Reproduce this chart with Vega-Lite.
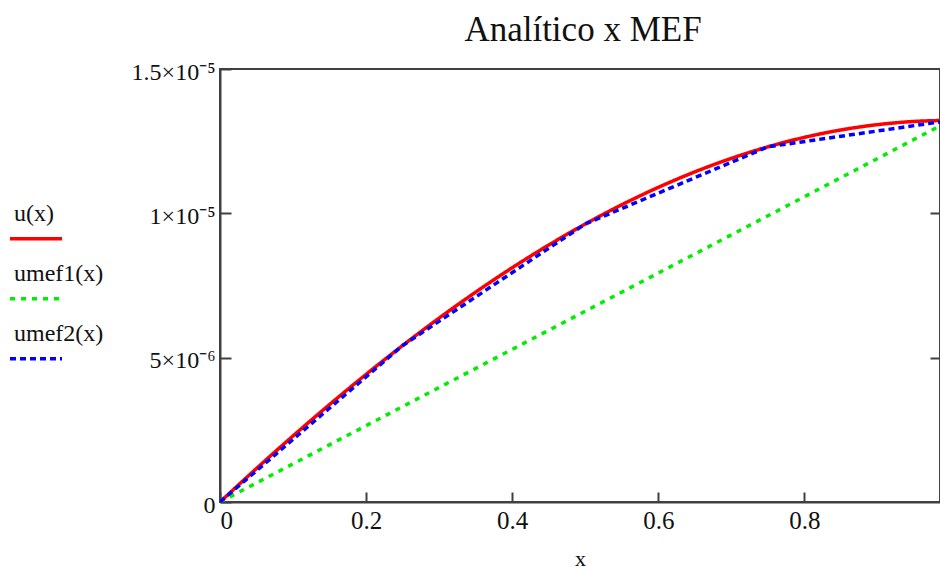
{
  "$schema": "https://vega.github.io/schema/vega-lite/v6.json",
  "autosize": {"type": "none"},
  "padding": {"left": 220, "top": 69, "right": 0, "bottom": 68},
  "width": 720,
  "height": 433,
  "background": "white",
  "config": {
    "view": {"stroke": "#404040", "strokeWidth": 2},
    "font": "Liberation Serif"
  },
  "title": {
    "text": "Analítico x MEF",
    "font": "Liberation Serif",
    "fontSize": 35,
    "fontWeight": "normal",
    "color": "#111111",
    "anchor": "middle",
    "dx": 3,
    "offset": 12
  },
  "datasets": {
    "curves": [
      {"x": 0, "u": 0, "serie": "u(x)"},
      {"x": 0.05, "u": 1.163e-6, "serie": "u(x)"},
      {"x": 0.1, "u": 2.29e-6, "serie": "u(x)"},
      {"x": 0.15, "u": 3.377e-6, "serie": "u(x)"},
      {"x": 0.2, "u": 4.422e-6, "serie": "u(x)"},
      {"x": 0.25, "u": 5.421e-6, "serie": "u(x)"},
      {"x": 0.3, "u": 6.372e-6, "serie": "u(x)"},
      {"x": 0.35, "u": 7.271e-6, "serie": "u(x)"},
      {"x": 0.4, "u": 8.116e-6, "serie": "u(x)"},
      {"x": 0.45, "u": 8.903e-6, "serie": "u(x)"},
      {"x": 0.5, "u": 9.631e-6, "serie": "u(x)"},
      {"x": 0.55, "u": 1.0298e-5, "serie": "u(x)"},
      {"x": 0.6, "u": 1.09e-5, "serie": "u(x)"},
      {"x": 0.65, "u": 1.1436e-5, "serie": "u(x)"},
      {"x": 0.7, "u": 1.1905e-5, "serie": "u(x)"},
      {"x": 0.75, "u": 1.2304e-5, "serie": "u(x)"},
      {"x": 0.8, "u": 1.2632e-5, "serie": "u(x)"},
      {"x": 0.85, "u": 1.2889e-5, "serie": "u(x)"},
      {"x": 0.9, "u": 1.3072e-5, "serie": "u(x)"},
      {"x": 0.95, "u": 1.3183e-5, "serie": "u(x)"},
      {"x": 1, "u": 1.322e-5, "serie": "u(x)"},
      {"x": 0, "u": 0, "serie": "umef1(x)"},
      {"x": 1, "u": 1.322e-5, "serie": "umef1(x)"},
      {"x": 0, "u": 0, "serie": "umef2(x)"},
      {"x": 0.25, "u": 5.421e-6, "serie": "umef2(x)"},
      {"x": 0.5, "u": 9.631e-6, "serie": "umef2(x)"},
      {"x": 0.75, "u": 1.2304e-5, "serie": "umef2(x)"},
      {"x": 1, "u": 1.322e-5, "serie": "umef2(x)"}
    ]
  },
  "data": {"name": "curves"},
  "encoding": {
    "x": {
      "field": "x",
      "type": "quantitative",
      "scale": {"domain": [0, 0.9856], "nice": false, "zero": false},
      "axis": {
        "values": [0, 0.2, 0.4, 0.6, 0.8],
        "format": "~g",
        "title": "x",
        "titleFont": "Liberation Serif",
        "titleFontSize": 22,
        "titleFontWeight": "normal",
        "titleColor": "#111111",
        "titlePadding": 15,
        "labelFont": "Liberation Serif",
        "labelFontSize": 25,
        "labelColor": "#111111",
        "labelPadding": 16,
        "tickSize": -10,
        "tickWidth": 2,
        "tickColor": "#404040",
        "domainColor": "#404040",
        "domainWidth": 2,
        "grid": false
      }
    },
    "color": {
      "field": "serie",
      "type": "nominal",
      "scale": {"domain": ["u(x)", "umef1(x)", "umef2(x)"], "range": ["#ff0000", "#00ee00", "#0000ff"]},
      "legend": {
        "orient": "none",
        "legendX": -212,
        "legendY": 117,
        "title": null,
        "symbolType": "M-1,0.95H1",
        "symbolSize": 2704,
        "symbolStrokeWidth": 3.5,
        "labelFont": "Liberation Serif",
        "labelFontSize": 24,
        "labelColor": "#111111",
        "labelOffset": -50,
        "labelBaseline": "middle",
        "rowPadding": 0
      }
    },
    "strokeDash": {
      "field": "serie",
      "type": "nominal",
      "scale": {"domain": ["u(x)", "umef1(x)", "umef2(x)"], "range": [[1, 0], [5, 6], [6, 4]]},
      "legend": {
        "orient": "none",
        "legendX": -212,
        "legendY": 117,
        "title": null,
        "symbolType": "M-1,0.95H1",
        "symbolSize": 2704,
        "symbolStrokeWidth": 3.5,
        "labelFont": "Liberation Serif",
        "labelFontSize": 24,
        "labelColor": "#111111",
        "labelOffset": -50,
        "labelBaseline": "middle",
        "rowPadding": 0
      }
    }
  },
  "layer": [
    {
      "transform": [{"filter": "datum.serie == 'umef1(x)'"}],
      "mark": {"type": "line", "strokeWidth": 3.5, "clip": true},
      "encoding": {
        "y": {
          "field": "u",
          "type": "quantitative",
          "scale": {"domain": [0, 1.5e-5], "nice": false},
          "axis": {
            "orient": "left",
            "values": [0, 5e-6, 1e-5, 1.5e-5],
            "labelExpr": "datum.value < 1e-7 ? '0' : datum.value < 7e-6 ? '5×10⁻⁶' : datum.value < 1.2e-5 ? '1×10⁻⁵' : '1.5×10⁻⁵'",
            "title": null,
            "labelFont": "Liberation Serif",
            "labelFontSize": 24,
            "labelColor": "#111111",
            "labelPadding": 16,
            "labelOffset": 3,
            "tickSize": -11,
            "tickWidth": 2,
            "tickColor": "#404040",
            "domainColor": "#404040",
            "domainWidth": 2,
            "grid": false
          }
        }
      }
    },
    {
      "transform": [{"filter": "datum.serie == 'u(x)'"}],
      "mark": {"type": "line", "strokeWidth": 3.5, "clip": true, "interpolate": "monotone"},
      "encoding": {
        "y": {
          "field": "u",
          "type": "quantitative",
          "scale": {"domain": [0, 1.5e-5], "nice": false},
          "axis": null
        }
      }
    },
    {
      "transform": [{"filter": "datum.serie == 'umef2(x)'"}],
      "mark": {"type": "line", "strokeWidth": 3.5, "clip": true},
      "encoding": {
        "y": {
          "field": "u",
          "type": "quantitative",
          "scale": {"domain": [0, 1.5e-5], "nice": false},
          "axis": {
            "orient": "right",
            "values": [5e-6, 1e-5],
            "labels": false,
            "title": null,
            "domain": false,
            "tickSize": -10,
            "tickWidth": 2,
            "tickColor": "#404040",
            "grid": false
          }
        }
      }
    }
  ],
  "resolve": {"axis": {"y": "independent"}}
}
